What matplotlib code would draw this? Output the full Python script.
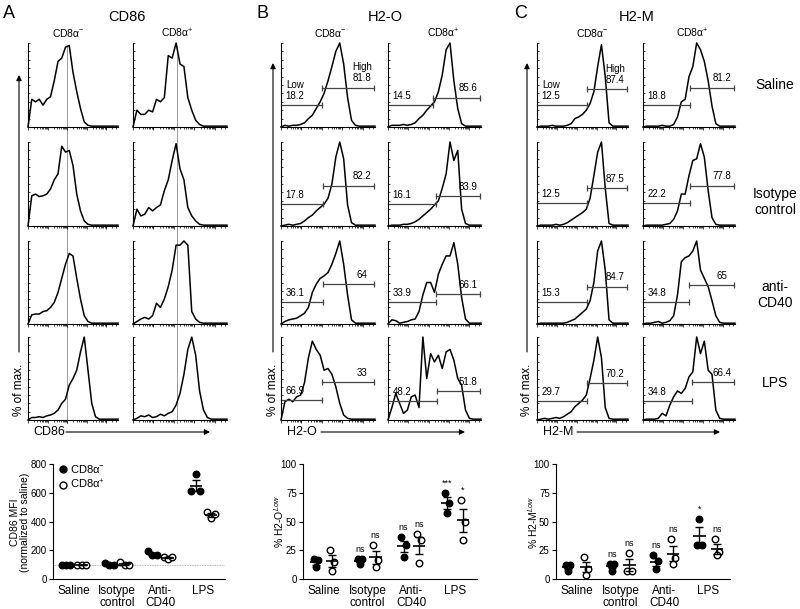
import numpy as np
import matplotlib.pyplot as plt
from matplotlib.lines import Line2D

plt.rcParams.update({
    "font.family": ["Liberation Sans", "DejaVu Sans"],
    "mathtext.fontset": "custom",
    "mathtext.rm": "Liberation Sans",
    "mathtext.it": "Liberation Sans:italic",
    "mathtext.bf": "Liberation Sans:bold",
    "axes.linewidth": 0.8,
})

W, H = 800, 609

# ---- flow histograms: % of max. in 25 bins along the log axis ----
# order of rows: Saline, Isotype control, anti-CD40, LPS
cd86_neg = [
    [0, .33, .30, .33, .26, .33, .36, .55, .78, .82, .95, .97, .65, .42, .22, .06, .02, .01, .01, .01, .01, .01, .01, .01, .01],
    [0, .36, .38, .35, .36, .38, .44, .55, .62, .95, .88, .90, .72, .38, .18, .06, .02, .01, .01, .01, .01, .01, .01, .01, .01],
    [0, .11, .12, .12, .15, .16, .20, .26, .38, .55, .72, .85, .82, .55, .30, .10, .03, .01, .01, .01, .01, .01, .01, .01, .01],
    [0, .03, .03, .04, .03, .05, .06, .08, .12, .20, .25, .42, .50, .60, .82, 1.0, .60, .20, .04, .01, .01, .01, .01, .01, .01],
]
cd86_pos = [
    [0, .20, .15, .15, .20, .18, .33, .30, .35, .85, .82, 1.0, .75, .72, .35, .20, .08, .03, .01, .01, .01, .01, .01, .01, .01],
    [0, .20, .12, .14, .22, .18, .22, .25, .42, .55, .78, .98, .68, .55, .22, .12, .06, .02, .01, .01, .01, .01, .01, .01, .01],
    [0, .03, .06, .08, .06, .10, .25, .20, .30, .45, .65, .95, .95, 1.0, .95, .15, .06, .02, .01, .01, .01, .01, .01, .01, .01],
    [0, .02, .05, .04, .06, .03, .04, .07, .05, .08, .10, .18, .32, .55, .85, 1.0, .78, .35, .12, .03, .01, .01, .01, .01, .01],
]
h2o_neg = [
    [0, .02, .01, .02, .02, .03, .05, .10, .14, .22, .30, .40, .55, .72, .90, 1.0, .75, .35, .08, .02, .01, .01, .01, .01, .01],
    [0, .01, .02, .01, .02, .03, .06, .10, .13, .18, .22, .26, .33, .50, .82, 1.0, .80, .25, .04, .01, .01, .01, .01, .01, .01],
    [0, .03, .05, .06, .07, .10, .13, .20, .38, .48, .55, .58, .62, .72, .85, 1.0, .72, .35, .05, .01, .01, .01, .01, .01, .01],
    [0, .22, .25, .22, .28, .30, .45, .75, .95, .85, .78, .60, .62, .55, .40, .20, .06, .02, .01, .01, .01, .01, .01, .01, .01],
]
h2o_pos = [
    [0, .02, .02, .02, .03, .02, .03, .05, .10, .14, .20, .25, .30, .42, .62, .92, 1.0, .55, .22, .04, .01, .01, .01, .01, .01],
    [0, .01, .01, .01, .02, .02, .03, .05, .08, .12, .16, .20, .25, .30, .45, .62, 1.0, .78, .90, .20, .03, .01, .01, .01, .01],
    [0, .05, .04, .01, .02, .03, .05, .06, .15, .35, .50, .50, .38, .60, .72, .82, .82, .98, .72, .32, .06, .01, .01, .01, .01],
    [0, .15, .32, .20, .08, .12, .28, .30, .15, 1.0, .50, .80, .70, .78, .62, .82, .85, .72, .50, .42, .12, .02, .01, .01, .01],
]
h2m_neg = [
    [0, .01, .01, .01, .02, .01, .01, .01, .02, .04, .10, .12, .15, .20, .28, .42, .72, .98, .60, .05, .01, .01, .01, .01, .01],
    [0, .01, .01, .01, .01, .02, .01, .02, .04, .07, .10, .13, .16, .20, .33, .60, .88, 1.0, .45, .03, .01, .01, .01, .01, .01],
    [0, .01, .01, .01, .01, .01, .01, .01, .02, .04, .06, .10, .14, .18, .28, .50, .88, 1.0, .65, .05, .01, .01, .01, .01, .01],
    [0, .01, .02, .01, .02, .03, .02, .04, .07, .10, .16, .20, .24, .30, .50, .72, 1.0, .75, .15, .02, .01, .01, .01, .01, .01],
]
h2m_pos = [
    [0, .01, .01, .01, .01, .02, .01, .01, .03, .12, .30, .33, .60, .72, 1.0, .92, .78, .55, .25, .04, .01, .01, .01, .01, .01],
    [0, .01, .01, .01, .01, .01, .02, .03, .08, .18, .38, .38, .60, .78, .80, .98, .82, .42, .10, .02, .01, .01, .01, .01, .01],
    [0, .01, .01, .02, .03, .01, .02, .04, .10, .35, .75, .80, .82, .88, 1.0, .65, .55, .45, .28, .10, .02, .01, .01, .01, .01],
    [0, .01, .01, .01, .02, .08, .05, .18, .28, .35, .32, .38, .52, .58, 1.0, .80, .95, .60, .55, .12, .02, .01, .01, .01, .01],
]

# gates (Low / High percentages and gate split on the axis)
h2o_neg_low = [18.2, 17.8, 36.1, 66.9]
h2o_neg_high = [81.8, 82.2, 64, 33]
h2o_neg_split = [0.44, 0.45, 0.45, 0.44]
h2o_pos_low = [14.5, 16.1, 33.9, 48.2]
h2o_pos_high = [85.6, 83.9, 66.1, 51.8]
h2o_pos_split = [0.48, 0.52, 0.52, 0.53]
h2m_neg_low = [12.5, 12.5, 15.3, 29.7]
h2m_neg_high = [87.4, 87.5, 84.7, 70.2]
h2m_neg_split = [0.55, 0.55, 0.55, 0.55]
h2m_pos_low = [18.8, 22.2, 34.8, 34.8]
h2m_pos_high = [81.2, 77.8, 65, 66.4]
h2m_pos_split = [0.51, 0.51, 0.50, 0.53]

# ---- summary dot plots ----
groups = ["Saline", "Isotype\ncontrol", "Anti-\nCD40", "LPS"]
cd86_mfi_neg = [[100, 100, 100], [111, 100, 100], [193, 165, 165], [610, 731, 610]]
cd86_mfi_pos = [[100, 100, 100], [121, 100, 100], [153, 142, 151], [466, 422, 455]]
h2o_low_neg = [[17.4, 16.8, 10.1], [17.4, 17.4, 13.0], [36.2, 29.9, 18.8], [74.8, 66.1, 57.4]]
h2o_low_pos = [[25.5, 14.5, 6.7], [29.3, 16.8, 10.4], [39.1, 34.2, 13.9], [69.0, 50.0, 34.2]]
h2m_low_neg = [[12.5, 12.5, 6.7], [13.0, 13.0, 7.2], [20.6, 15.4, 8.7], [29.9, 29.9, 52.5]]
h2m_low_pos = [[18.8, 9.0, 3.8], [6.7, 6.7, 22.6], [35.0, 18.3, 13.0], [34.8, 23.2, 21.2]]
h2o_sig_neg = ["", "ns", "ns", "***"]
h2o_sig_pos = ["", "ns", "ns", "*"]
h2m_sig_neg = ["", "ns", "ns", "*"]
h2m_sig_pos = ["", "ns", "ns", "ns"]


fig = plt.figure(figsize=(8, 6.09), dpi=100)


def rect(x0, y0, x1, y1):
    return [x0 / W, 1 - y1 / H, (x1 - x0) / W, (y1 - y0) / H]


# background axes in pixel coordinates for labels and arrows
bg = fig.add_axes([0, 0, 1, 1])
bg.set_xlim(0, W)
bg.set_ylim(H, 0)
bg.axis("off")

decade = 0.218
decades = np.arange(5) * decade
minors = [d + decade * np.log10(k) for d in decades for k in range(2, 10)]
minors = [m for m in minors if m <= 1]


def hist_axes(xs, ys):
    ax = fig.add_axes(rect(xs[0], ys[0], xs[1], ys[1]))
    ax.patch.set_visible(False)
    ax.set_xlim(0, 1)
    ax.set_ylim(0, 1)
    ax.spines["top"].set_visible(False)
    ax.spines["right"].set_visible(False)
    for s in ("left", "bottom"):
        ax.spines[s].set_linewidth(0.8)
    ax.set_xticks(decades)
    ax.set_xticks(minors, minor=True)
    ax.set_yticks(np.arange(0, 1.01, 0.1))
    ax.tick_params(which="both", labelbottom=False, labelleft=False, width=0.5)
    ax.tick_params(axis="x", which="major", length=2.5, direction="out")
    ax.tick_params(axis="x", which="minor", length=1.2, direction="out")
    ax.tick_params(axis="y", which="major", length=1.5, direction="in")
    return ax


def draw_gates(ax, split, low, high, ly, hy, first):
    gc = "#444444"
    ax.plot([0, split], [ly, ly], color=gc, lw=0.9, clip_on=False)
    ax.plot([split], [ly], marker="|", ms=4.5, color=gc, mew=0.9, clip_on=False)
    ax.plot([split, 0.99], [hy, hy], color=gc, lw=0.9, clip_on=False)
    ax.plot([split, 0.99], [hy, hy], ls="", marker="|", ms=4.5, color=gc, mew=0.9, clip_on=False)
    lt = f"{low:g}"
    ht = f"{high:g}"
    if first:
        lt = "Low\n" + lt
        ht = "High\n" + ht
    ax.text(0.15, ly + 0.05, lt, fontsize=7, ha="center", va="bottom", linespacing=1.15)
    ax.text(0.86, hy + 0.05, ht, fontsize=7, ha="center", va="bottom", linespacing=1.15)


hist_cols = [(28, 118), (133, 227), (281, 375), (388, 481), (537, 628), (643, 735)]
hist_rows = [(43, 127), (142, 226), (241, 324), (337, 420)]

columns = [
    (cd86_neg, None),
    (cd86_pos, None),
    (h2o_neg, (h2o_neg_split, h2o_neg_low, h2o_neg_high, [0.26, 0.26, 0.26, 0.24], [0.47, 0.48, 0.48, 0.46], True)),
    (h2o_pos, (h2o_pos_split, h2o_pos_low, h2o_pos_high, [0.26, 0.26, 0.26, 0.23], [0.35, 0.36, 0.36, 0.35], False)),
    (h2m_neg, (h2m_neg_split, h2m_neg_low, h2m_neg_high, [0.26, 0.27, 0.26, 0.23], [0.45, 0.45, 0.45, 0.44], True)),
    (h2m_pos, (h2m_pos_split, h2m_pos_low, h2m_pos_high, [0.26, 0.27, 0.26, 0.23], [0.47, 0.48, 0.47, 0.46], False)),
]

# saline MFI reference lines in panel A
bg.plot([67, 67], [46, 423], color="#8a8a8a", lw=0.6)
bg.plot([177, 177], [46, 423], color="#8a8a8a", lw=0.6)

for ci, (curves, gates) in enumerate(columns):
    for ri, curve in enumerate(curves):
        ax = hist_axes(hist_cols[ci], hist_rows[ri])
        xs = np.arange(len(curve)) / 24
        ax.plot(xs, curve, color="black", lw=1.1, clip_on=False)
        if gates is not None:
            split, lows, highs, lys, hys, named = gates
            draw_gates(ax, split[ri], lows[ri], highs[ri], lys[ri], hys[ri], named and ri == 0)

# panel letters, titles, column headers
for letter, x in (("A", 9), ("B", 263), ("C", 521)):
    bg.text(x, 14, letter, fontsize=13, ha="center", va="center")
for title, x in (("CD86", 127), ("H2-O", 385), ("H2-M", 637)):
    bg.text(x, 17, title, fontsize=10.5, ha="center", va="center")
for x in (68, 330, 592):
    bg.text(x, 33, "CD8α$^{-}$", fontsize=7.5, ha="center", va="center")
for x in (177, 443, 692):
    bg.text(x, 33, "CD8α$^{+}$", fontsize=7.5, ha="center", va="center")

# row labels
for label, y in (("Saline", 85), ("Isotype\ncontrol", 202), ("anti-\nCD40", 295), ("LPS", 383)):
    bg.text(775, y, label, fontsize=10, ha="center", va="center", linespacing=1.2)

# % of max. arrows and marker arrows
arrow = dict(arrowstyle="-|>", lw=0.8, color="black", mutation_scale=8, shrinkA=0, shrinkB=0)
for x, ytop in ((19, 75), (273, 63), (527, 63)):
    bg.annotate("", xy=(x, ytop), xytext=(x, 352), arrowprops=arrow)
    bg.text(x, 390, "% of max.", fontsize=8.5, rotation=90, ha="center", va="center")
for label, xt, xa0, xa1 in (("CD86", 33, 66, 210), ("H2-O", 287, 321, 465), ("H2-M", 543, 577, 720)):
    bg.text(xt, 432, label, fontsize=9, ha="left", va="center")
    bg.annotate("", xy=(xa1, 432), xytext=(xa0, 432), arrowprops=arrow)


# ---- dot plots ----
def dot_plot(xs, vals_neg, vals_pos, ymax, yticks, spread, offset, sig_neg=None, sig_pos=None, ref=None):
    ax = fig.add_axes(rect(xs[0], 464, xs[1], 579))
    ax.patch.set_visible(False)
    ax.set_xlim(-0.48, 3.5)
    ax.set_ylim(0, ymax)
    ax.spines["top"].set_visible(False)
    ax.spines["right"].set_visible(False)
    ax.set_yticks(yticks)
    ax.set_xticks(range(4))
    ax.set_xticklabels(groups, fontsize=8.5, linespacing=1.05)
    ax.tick_params(axis="y", labelsize=7, length=3, width=0.8, pad=1.5)
    ax.tick_params(axis="x", length=0, pad=4)
    if ref is not None:
        ax.axhline(ref, color="#999999", lw=0.6, ls=(0, (1, 1)), zorder=1)
    for i in range(4):
        for vals, center, face, sig in ((vals_neg[i], i - offset, "black", sig_neg), (vals_pos[i], i + offset, "white", sig_pos)):
            v = np.array(vals, dtype=float)
            xx = center + np.array(spread)
            ax.scatter(xx, v, s=22, facecolor=face, edgecolor="black", lw=1.0, zorder=2)
            m = v.mean()
            sem = v.std(ddof=1) / np.sqrt(len(v))
            ax.hlines(m, center - 0.14, center + 0.14, color="black", lw=1.2, zorder=3)
            ax.errorbar(center, m, yerr=sem, color="black", lw=1.0, capsize=2.8, capthick=1.0, zorder=3)
            if sig is not None and sig[i]:
                top = max(v.max(), m + sem)
                ax.text(center, top + 0.045 * ymax, sig[i], fontsize=6.5, ha="center", va="bottom")
    return ax


axA = dot_plot((53, 225), cd86_mfi_neg, cd86_mfi_pos, 800, [0, 200, 400, 600, 800],
               [-0.1, 0.0, 0.1], 0.18, ref=100)
handles = [
    Line2D([], [], ls="", marker="o", ms=5, mfc="black", mec="black"),
    Line2D([], [], ls="", marker="o", ms=5, mfc="white", mec="black"),
]
axA.legend(handles, ["CD8α$^{-}$", "CD8α$^{+}$"], loc="upper left", bbox_to_anchor=(0.0, 1.05),
           frameon=False, fontsize=8, handletextpad=0.1, labelspacing=0.3, borderaxespad=0,
           handlelength=1.0)

dot_plot((303, 477), h2o_low_neg, h2o_low_pos, 100, [0, 25, 50, 75, 100],
         [-0.05, 0.05, 0.0], 0.18, h2o_sig_neg, h2o_sig_pos)
dot_plot((556, 730), h2m_low_neg, h2m_low_pos, 100, [0, 25, 50, 75, 100],
         [-0.05, 0.05, 0.0], 0.2, h2m_sig_neg, h2m_sig_pos)

bg.text(20, 522, "CD86 MFI\n(normalized to saline)", fontsize=7.5, rotation=90, ha="center", va="center",
        linespacing=1.1)
bg.text(279, 522, "% H2-O$^{\\mathit{Low}}$", fontsize=7.5, rotation=90, ha="center", va="center")
bg.text(533, 522, "% H2-M$^{\\mathit{Low}}$", fontsize=7.5, rotation=90, ha="center", va="center")

fig.savefig("out.png", dpi=100)
